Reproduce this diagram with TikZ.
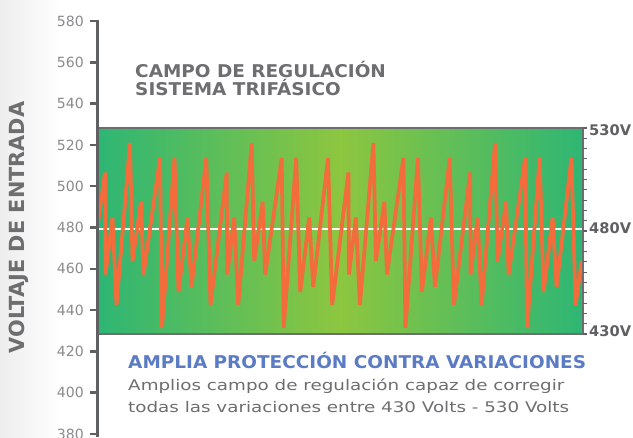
\documentclass[tikz,border=0pt]{standalone}
\usepackage{fontspec}
\setmainfont{DejaVu Sans}
\newfontfamily\titlefont[FakeStretch=1.05]{DejaVu Sans}
\newfontfamily\widefont[FakeStretch=1.25]{DejaVu Sans}
\usetikzlibrary{positioning}
\usetikzlibrary{calc}
\definecolor{axisgray}{HTML}{5F6062}
\definecolor{txtgray}{HTML}{6D6E70}
\definecolor{numgray}{HTML}{8A8B8D}
\definecolor{bandedge}{HTML}{2EB674}
\definecolor{bandmid}{HTML}{8DC63F}
\definecolor{zig}{HTML}{F26C3C}
\definecolor{titleblue}{HTML}{5B7CC4}

\begin{document}
\begin{tikzpicture}[x=0.03cm, y=-0.03cm,
    num/.style={anchor=east, text=numgray, inner sep=0pt, font=\fontsize{12}{12}\selectfont},
    vlab/.style={anchor=west, text=axisgray, inner sep=0pt, font=\bfseries\fontsize{12.5}{12.5}\selectfont},
    ttl/.style={anchor=base west, text=txtgray, inner sep=0pt, font=\titlefont\bfseries\fontsize{15}{15}\selectfont},
    body/.style={anchor=base west, text=txtgray, inner sep=0pt, font=\widefont\fontsize{12.5}{12.5}\selectfont}]
    \useasboundingbox (0,0) rectangle (633,437);
    \fill[white] (0,0) rectangle (633,437);
    \shade[left color=black!7, right color=white] (0,0) rectangle (60,437);

    % green band
    \shade[left color=bandedge, right color=bandedge, middle color=bandmid] (98,128) rectangle (583,334);
    \draw[white, line width=1.8pt] (98,229) -- (583,229);
    \begin{scope}
        \clip (98,128) rectangle (583,334);
        \draw[zig, line width=3.2pt, line join=bevel] (97,230)
        \foreach \k in {0,...,3} {
            -- ({105+\k*121.7},172.5) -- ({105.5+\k*121.7},274.5)
            -- ({112.5+\k*121.7},217.5) -- ({116.5+\k*121.7},305)
            -- ({130+\k*121.7},143) -- ({132.5+\k*121.7},261)
            -- ({141+\k*121.7},202) -- ({143.5+\k*121.7},274.5)
            -- ({160+\k*121.7},158) -- ({162+\k*121.7},328)
            -- ({174.5+\k*121.7},158) -- ({178.5+\k*121.7},292)
            -- ({187.5+\k*121.7},217.5) -- ({191.5+\k*121.7},287)
            -- ({206.3+\k*121.7},158) -- ({210.5+\k*121.7},305)
        } -- (581.7,261);
    \end{scope}
    \draw[txtgray, line width=2pt] (98,128) rectangle (583,334);

    % left axis
    \draw[axisgray, line width=2.6pt] (97.5,20) -- (97.5,437);
    \foreach \v [count=\i from 0] in {580,560,...,380} {
        \draw[axisgray, line width=2.2pt] (90,{21+\i*41.3}) -- (97.5,{21+\i*41.3});
        \node[num] (n\v) at (84,{21+\i*41.3}) {\v};
    }

    % right scale
    \foreach \i in {0,...,20}
        \draw[axisgray, line width=1pt] (583,{128+\i*10.3}) -- (587,{128+\i*10.3});
    \node[vlab] (v530) at (589,130.5) {530V};
    \node[vlab] (v480) at (589,228) {480V};
    \node[vlab] (v430) at (589,331.3) {430V};

    \node[rotate=90, text=txtgray, inner sep=0pt, font=\bfseries\fontsize{17.8}{17.8}\selectfont] (ylab) at (19,227.5) {VOLTAJE DE ENTRADA};

    % texts
    \node[ttl] (campo) at (135,77) {CAMPO DE REGULACIÓN};
    \node[ttl] (sist) at (135,95) {SISTEMA TRIFÁSICO};
    \node[ttl, text=titleblue] (ampl) at (128,368.3) {AMPLIA PROTECCIÓN CONTRA VARIACIONES};
    \node[body] (desc1) at (128,390) {Amplios campo de regulación capaz de corregir};
    \node[body] (desc2) at (128,412.7) {todas las variaciones entre 430 Volts - 530 Volts};
\end{tikzpicture}
\end{document}
